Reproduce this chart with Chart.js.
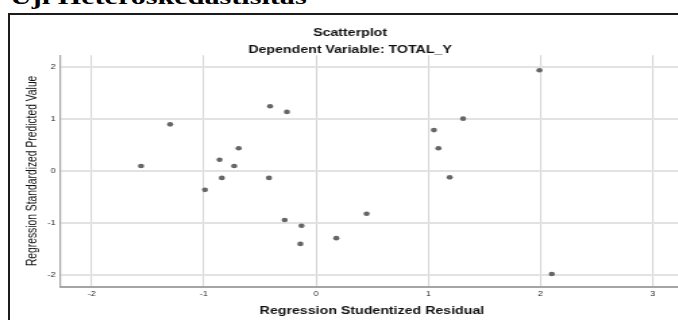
<!DOCTYPE html>
<html><head><meta charset="utf-8">
<script src="https://cdn.jsdelivr.net/npm/chart.js@4/dist/chart.umd.min.js"></script>
<style>
html,body{margin:0;padding:0;width:678px;height:320px;overflow:hidden;background:#fff;}
#hdr{position:absolute;left:10px;top:-14px;font:bold 22px "Liberation Serif",serif;line-height:22px;transform:scaleX(1.37);transform-origin:0 0;white-space:nowrap;color:#000;}
#box{position:absolute;left:8px;top:13px;width:720px;height:340px;border:2px solid #1c1c1c;box-sizing:border-box;}
#wrap{position:absolute;left:0;top:0;width:520px;height:320px;transform:scaleX(1.35);transform-origin:0 0;}
canvas{display:block;}
</style></head><body>
<div id="hdr">Uji Heteroskedastisitas</div>
<div id="box"></div>
<div id="wrap"><canvas id="c" width="520" height="320"></canvas></div>
<script>
// Regression Studentized Residual (x) and Regression Standardized Predicted Value (y)
const residual  = [-1.56, -1.30, -0.41, -0.26, -0.69, -0.86, -0.73, -0.84, -0.42, -0.99, -0.28, -0.13, -0.14, 0.18, 0.45, 1.99, 1.31, 1.05, 1.09, 1.19, 2.10];
const predicted = [ 0.10,  0.90,  1.25,  1.14,  0.44,  0.22,  0.10, -0.13, -0.13, -0.36, -0.94, -1.05, -1.40, -1.29, -0.82, 1.94, 1.01, 0.79, 0.44, -0.12, -1.98];
const xTicks = [-2, -1, 0, 1, 2, 3];
const yTicks = [-2, -1, 0, 1, 2];
const xMin = -2.275, xMax = 3.27;
const yMin = -2.22, yMax = 2.23;

const FAM = '"Liberation Sans", Arial, sans-serif';
const points = residual.map((x, i) => ({x: x, y: predicted[i]}));

new Chart(document.getElementById('c'), {
  type: 'scatter',
  data: { datasets: [{
    data: points,
    pointRadius: 2.3, pointHoverRadius: 2.3,
    backgroundColor: '#666666', borderWidth: 0
  }]},
  options: {
    responsive: false, animation: false, devicePixelRatio: 1,
    layout: { padding: { left: 7, right: 8.4, top: 19.5, bottom: 0 } },
    plugins: {
      legend: { display: false }, tooltip: { enabled: false },
      title: { display: true, text: 'Scatterplot', color: '#111',
        font: { family: FAM, size: 10.5, weight: 'bold', lineHeight: 1 }, padding: { top: 8.75, bottom: 1 } },
      subtitle: { display: true, text: 'Dependent Variable: TOTAL_Y', color: '#111',
        font: { family: FAM, size: 10.5, weight: 'bold', lineHeight: 1 }, padding: { top: 5, bottom: 0 } }
    },
    scales: {
      x: {
        type: 'linear', min: xMin, max: xMax,
        afterBuildTicks: s => { s.ticks = xTicks.map(v => ({ value: v })); },
        afterFit: s => { s.height = 33.5; },
        grid: { color: '#d5d5d5', lineWidth: 1.1, drawTicks: false },
        border: { color: '#a5a5a5', width: 2 },
        ticks: { color: '#222', font: { family: FAM, size: 6.5 }, padding: 3.5, maxRotation: 0 },
        title: { display: true, text: 'Regression Studentized Residual', color: '#111',
          font: { family: FAM, size: 10.5, weight: 'bold' }, padding: { top: 0, bottom: 2.7 } }
      },
      y: {
        type: 'linear', min: yMin, max: yMax,
        afterBuildTicks: s => { s.ticks = yTicks.map(v => ({ value: v })); },
        afterFit: s => { s.width = 38; },
        grid: { color: '#e2e2e2', lineWidth: 2, drawTicks: false },
        border: { color: '#a5a5a5', width: 1.2 },
        ticks: { color: '#222', font: { family: FAM, size: 6.5 }, padding: 4 },
        title: { display: true, text: 'Regression Standardized Predicted Value', color: '#111',
          font: { family: FAM, size: 10.3 }, padding: { top: 11, bottom: 0 } }
      },
      y2: {
        type: 'linear', position: 'right', display: true,
        afterFit: s => { s.width = 5.6; },
        grid: { display: false, drawTicks: false },
        border: { display: false },
        ticks: { display: false }
      }
    }
  }
});
</script>
</body></html>
